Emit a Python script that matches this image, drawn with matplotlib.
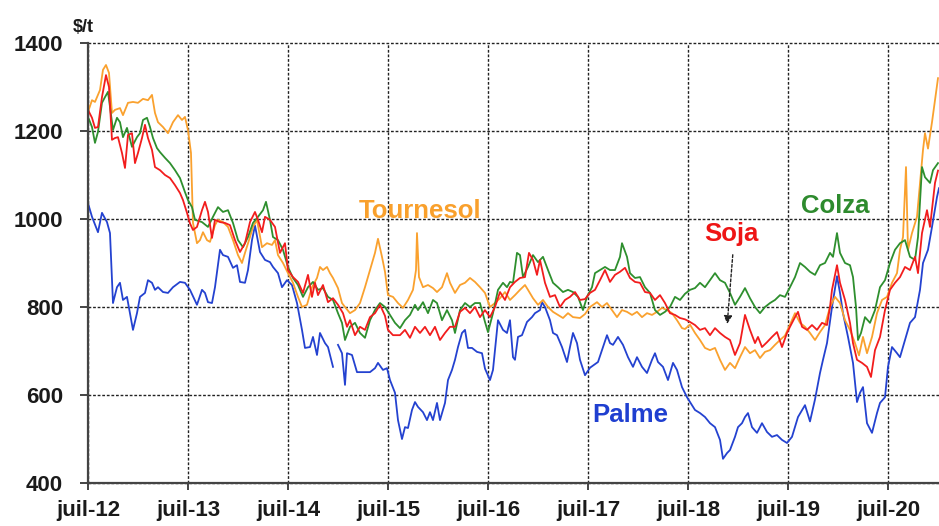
import numpy as np
import matplotlib
matplotlib.use("Agg")
import matplotlib.pyplot as plt

# Prix des huiles végétales, $/t (dates en années décimales, juil-12 = 2012.5)
palme_t = [2012.50, 2012.54, 2012.60, 2012.64, 2012.69, 2012.72, 2012.75, 2012.79, 2012.82, 2012.85,
           2012.89, 2012.92, 2012.95, 2012.99, 2013.02, 2013.07, 2013.10, 2013.14, 2013.17, 2013.20,
           2013.25, 2013.30, 2013.35, 2013.42, 2013.47, 2013.52, 2013.59, 2013.64, 2013.67, 2013.70,
           2013.74, 2013.77, 2013.82, 2013.85, 2013.90, 2013.95, 2013.99, 2014.02, 2014.07, 2014.10,
           2014.14, 2014.17, 2014.22, 2014.27, 2014.32, 2014.35, 2014.40, 2014.44, 2014.49, 2014.54,
           2014.59, 2014.64, 2014.67, 2014.72, 2014.75, 2014.79, 2014.82, 2014.87, 2014.90, 2014.95,
           2014.97,
           2015.00, 2015.04, 2015.07, 2015.09, 2015.14, 2015.19, 2015.25, 2015.32, 2015.37, 2015.40,
           2015.45, 2015.49, 2015.52, 2015.57, 2015.60, 2015.64, 2015.67, 2015.70, 2015.74, 2015.77,
           2015.80, 2015.85, 2015.89, 2015.92, 2015.95, 2015.99, 2016.02, 2016.07, 2016.10, 2016.14,
           2016.17, 2016.20, 2016.24, 2016.27, 2016.30, 2016.34, 2016.39, 2016.44, 2016.47, 2016.52,
           2016.55, 2016.60, 2016.65, 2016.69, 2016.72, 2016.75, 2016.77, 2016.80, 2016.84, 2016.89,
           2016.94, 2016.97, 2017.02, 2017.04, 2017.07, 2017.12, 2017.15, 2017.19, 2017.24, 2017.29,
           2017.32, 2017.35, 2017.39, 2017.42, 2017.47, 2017.52, 2017.60, 2017.65, 2017.69, 2017.72,
           2017.75, 2017.80, 2017.85, 2017.90, 2017.95, 2017.99, 2018.04, 2018.09, 2018.14, 2018.17,
           2018.20, 2018.25, 2018.30, 2018.35, 2018.39, 2018.44, 2018.49, 2018.52, 2018.57, 2018.62,
           2018.67, 2018.72, 2018.77, 2018.82, 2018.85, 2018.89, 2018.92, 2018.97, 2019.00, 2019.04,
           2019.07, 2019.10, 2019.14, 2019.19, 2019.24, 2019.29, 2019.34, 2019.39, 2019.44, 2019.49,
           2019.54, 2019.60, 2019.67, 2019.72, 2019.77, 2019.82, 2019.85, 2019.89, 2019.94, 2019.99,
           2020.02, 2020.05, 2020.10, 2020.15, 2020.19, 2020.22, 2020.25, 2020.29, 2020.34, 2020.39,
           2020.42, 2020.47, 2020.50, 2020.54, 2020.59, 2020.62, 2020.67, 2020.72, 2020.77, 2020.82,
           2020.85, 2020.90, 2020.94, 2020.99, 2021.01]
palme = [1036, 1005, 970, 1014, 993, 968, 809, 845, 855, 816,
         823, 786, 748, 786, 823, 832, 861, 855, 839, 845,
         834, 832, 845, 857, 855, 839, 805, 839, 832, 811,
         809, 845, 930, 918, 914, 889, 895, 857, 855, 884,
         952, 985, 925, 907, 902, 891, 877, 845, 861, 850,
         809, 748, 707, 709, 732, 691, 741, 718, 709, 664,
         np.nan,
         714, 695, 623, 695, 691, 652, 652, 652, 661, 673,
         657, 661, 634, 605, 543, 500, 527, 525, 566, 584,
         573, 561, 543, 561, 543, 582, 543, 582, 634, 657,
         680, 709, 741, 748, 707, 707, 698, 695, 660, 634,
         657, 770, 748, 741, 770, 686, 680, 732, 736, 766,
         777, 786, 793, 811, 800, 770, 741, 736, 709, 675,
         709, 741, 718, 680, 645, 662, 675, 709, 736, 718,
         714, 732, 714, 686, 664, 686, 664, 650, 680, 695,
         675, 664, 634, 673, 657, 618, 595, 584, 566, 559,
         550, 536, 527, 498, 455, 468, 475, 505, 527, 536,
         550, 559, 527, 514, 536, 516, 505, 509, 498, 491,
         505, 550, 577, 540, 590, 650, 680, 718, 800, 870,
         832, 786, 732, 673, 584, 605, 618, 536, 514, 559,
         582, 595, 664, 709, 695, 686, 725, 764, 777, 839,
         900, 930, 982, 1050, 1070]

tournesol_t = [2012.50, 2012.54, 2012.57, 2012.62, 2012.65, 2012.68, 2012.71, 2012.74, 2012.77, 2012.82,
               2012.85, 2012.90, 2012.95, 2013.00, 2013.05, 2013.10, 2013.14, 2013.17, 2013.20, 2013.25,
               2013.30, 2013.35, 2013.40, 2013.44, 2013.47, 2013.50, 2013.53, 2013.55, 2013.59, 2013.62,
               2013.65, 2013.69, 2013.72, 2013.77, 2013.80, 2013.85, 2013.90, 2013.95, 2014.00, 2014.04,
               2014.07, 2014.12, 2014.15, 2014.19, 2014.24, 2014.29, 2014.34, 2014.37, 2014.40, 2014.45,
               2014.50, 2014.55, 2014.60, 2014.64, 2014.69, 2014.74, 2014.79, 2014.82, 2014.85, 2014.89,
               2014.92, 2014.95, 2015.00, 2015.04, 2015.07, 2015.12, 2015.17, 2015.22, 2015.27, 2015.32,
               2015.37, 2015.40, 2015.44, 2015.47, 2015.50, 2015.55, 2015.60, 2015.65, 2015.70, 2015.75,
               2015.78, 2015.79, 2015.81, 2015.85, 2015.90, 2015.95, 2015.99, 2016.04, 2016.09, 2016.12,
               2016.17, 2016.22, 2016.27, 2016.32, 2016.37, 2016.42, 2016.47, 2016.52, 2016.57, 2016.62,
               2016.67, 2016.72, 2016.77, 2016.82, 2016.87, 2016.90, 2016.95, 2017.00, 2017.05, 2017.10,
               2017.15, 2017.20, 2017.25, 2017.30, 2017.35, 2017.42, 2017.47, 2017.52, 2017.59, 2017.64,
               2017.69, 2017.74, 2017.79, 2017.84, 2017.89, 2017.94, 2017.99, 2018.04, 2018.09, 2018.14,
               2018.19, 2018.24, 2018.29, 2018.34, 2018.39, 2018.44, 2018.47, 2018.52, 2018.57, 2018.62,
               2018.67, 2018.72, 2018.77, 2018.82, 2018.87, 2018.92, 2018.97, 2019.02, 2019.07, 2019.12,
               2019.17, 2019.22, 2019.27, 2019.32, 2019.37, 2019.42, 2019.47, 2019.52, 2019.57, 2019.62,
               2019.67, 2019.72, 2019.77, 2019.82, 2019.87, 2019.92, 2019.97, 2020.02, 2020.07, 2020.12,
               2020.17, 2020.21, 2020.25, 2020.29, 2020.34, 2020.39, 2020.44, 2020.49, 2020.54, 2020.59,
               2020.62, 2020.65, 2020.68, 2020.70, 2020.74, 2020.79, 2020.82, 2020.85, 2020.87, 2020.90,
               2020.94, 2020.97, 2021.00]
tournesol = [1243, 1270, 1266, 1293, 1339, 1350, 1332, 1241, 1248, 1252,
             1236, 1264, 1266, 1264, 1273, 1270, 1282, 1241, 1220, 1209,
             1195, 1220, 1236, 1225, 1232, 1202, 1150, 991, 945, 952,
             970, 952, 948, 986, 998, 993, 982, 952, 918, 900,
             923, 959, 982, 998, 936, 945, 941, 952, 918, 900,
             877, 855, 823, 800, 805, 845, 866, 891, 884, 891,
             877, 866, 843, 809, 800, 786, 793, 809, 845, 884,
             923, 955, 914, 880, 827, 823, 809, 798, 816, 839,
             884, 968, 868, 845, 850, 843, 834, 845, 877, 855,
             832, 850, 855, 866, 857, 845, 832, 800, 809, 820,
             834, 816, 827, 839, 850, 839, 820, 805, 816, 800,
             789, 782, 775, 786, 777, 775, 784, 800, 811, 800,
             809, 793, 777, 793, 789, 782, 789, 777, 786, 782,
             789, 798, 793, 786, 770, 752, 750, 760, 741, 725,
             707, 702, 707, 680, 657, 673, 661, 686, 709, 695,
             702, 684, 698, 702, 714, 725, 735, 760, 786, 764,
             755, 741, 725, 743, 759, 800, 823, 809, 770, 748,
             718, 690, 732, 695, 732, 786, 816, 823, 855, 877,
             930, 959, 1118, 930, 968, 1005, 1082, 1157, 1195, 1160,
             1220, 1270, 1320]

colza_t = [2012.50, 2012.54, 2012.57, 2012.60, 2012.64, 2012.67, 2012.70, 2012.72, 2012.75, 2012.79,
           2012.82, 2012.85, 2012.89, 2012.94, 2012.99, 2013.02, 2013.05, 2013.09, 2013.12, 2013.15,
           2013.19, 2013.22, 2013.27, 2013.32, 2013.37, 2013.42, 2013.47, 2013.50, 2013.54, 2013.57,
           2013.64, 2013.70, 2013.75, 2013.80, 2013.85, 2013.90, 2013.95, 2014.00, 2014.05, 2014.10,
           2014.15, 2014.20, 2014.25, 2014.28, 2014.32, 2014.35, 2014.40, 2014.45, 2014.50, 2014.55,
           2014.60, 2014.65, 2014.70, 2014.75, 2014.80, 2014.85, 2014.90, 2014.95, 2015.00, 2015.04,
           2015.07, 2015.12, 2015.17, 2015.22, 2015.27, 2015.32, 2015.37, 2015.42, 2015.47, 2015.52,
           2015.57, 2015.62, 2015.67, 2015.72, 2015.77, 2015.80, 2015.85, 2015.90, 2015.95, 2015.99,
           2016.04, 2016.09, 2016.14, 2016.17, 2016.22, 2016.27, 2016.32, 2016.37, 2016.42, 2016.47,
           2016.50, 2016.55, 2016.60, 2016.65, 2016.69, 2016.72, 2016.75, 2016.79, 2016.82, 2016.85,
           2016.90, 2016.95, 2017.00, 2017.05, 2017.10, 2017.15, 2017.20, 2017.25, 2017.30, 2017.35,
           2017.40, 2017.45, 2017.49, 2017.54, 2017.57, 2017.62, 2017.67, 2017.72, 2017.77, 2017.82,
           2017.84, 2017.89, 2017.92, 2017.97, 2018.02, 2018.07, 2018.12, 2018.17, 2018.22, 2018.27,
           2018.32, 2018.37, 2018.42, 2018.47, 2018.52, 2018.57, 2018.62, 2018.67, 2018.72, 2018.77,
           2018.82, 2018.87, 2018.92, 2018.97, 2019.02, 2019.07, 2019.12, 2019.17, 2019.22, 2019.27,
           2019.32, 2019.37, 2019.42, 2019.47, 2019.52, 2019.57, 2019.62, 2019.67, 2019.72, 2019.77,
           2019.82, 2019.87, 2019.92, 2019.95, 2019.99, 2020.02, 2020.07, 2020.12, 2020.15, 2020.18,
           2020.20, 2020.23, 2020.27, 2020.32, 2020.37, 2020.42, 2020.47, 2020.52, 2020.57, 2020.62,
           2020.67, 2020.72, 2020.77, 2020.80, 2020.84, 2020.87, 2020.92, 2020.95, 2021.00]
colza = [1232, 1209, 1173, 1198, 1264, 1277, 1289, 1255, 1202, 1230,
         1220, 1186, 1207, 1164, 1186, 1195, 1225, 1230, 1209, 1184,
         1161, 1152, 1139, 1127, 1111, 1093, 1061, 1043, 1027, 998,
         993, 982, 1005, 1027, 1016, 1020, 991, 952, 936, 959,
         991, 1005, 1020, 1039, 998, 959, 952, 930, 891, 866,
         850, 823, 845, 857, 839, 843, 823, 816, 786, 764,
         725, 755, 764, 741, 730, 770, 793, 809, 800, 782,
         764, 752, 770, 782, 805, 793, 811, 786, 816, 809,
         770, 793, 770, 741, 793, 809, 800, 809, 809, 766,
         743, 786, 839, 855, 845, 857, 855, 923, 918, 868,
         891, 918, 902, 914, 884, 855, 845, 834, 839, 834,
         823, 793, 823, 845, 877, 884, 891, 884, 884, 914,
         945, 914, 877, 866, 868, 845, 832, 793, 782, 789,
         800, 823, 816, 830, 839, 843, 855, 845, 861, 877,
         861, 855, 832, 805, 823, 843, 820, 800, 786, 800,
         809, 816, 827, 823, 845, 868, 900, 891, 880, 873,
         895, 900, 923, 914, 968, 923, 900, 895, 868, 800,
         725, 741, 777, 764, 793, 845, 861, 900, 930, 945,
         952, 914, 907, 959, 1118, 1095, 1082, 1111, 1127]

soja_t = [2012.50, 2012.54, 2012.57, 2012.60, 2012.64, 2012.68, 2012.71, 2012.74, 2012.77, 2012.80,
          2012.84, 2012.87, 2012.90, 2012.94, 2012.97, 2013.00, 2013.04, 2013.07, 2013.10, 2013.14,
          2013.17, 2013.22, 2013.27, 2013.32, 2013.37, 2013.42, 2013.45, 2013.49, 2013.52, 2013.55,
          2013.59, 2013.64, 2013.67, 2013.70, 2013.74, 2013.77, 2013.82, 2013.87, 2013.92, 2013.97,
          2014.02, 2014.07, 2014.12, 2014.17, 2014.20, 2014.24, 2014.27, 2014.32, 2014.37, 2014.42,
          2014.47, 2014.50, 2014.55, 2014.60, 2014.65, 2014.70, 2014.74, 2014.77, 2014.80, 2014.85,
          2014.90, 2014.95, 2015.00, 2015.05, 2015.09, 2015.12, 2015.17, 2015.22, 2015.27, 2015.32,
          2015.37, 2015.42, 2015.47, 2015.50, 2015.55, 2015.62, 2015.67, 2015.72, 2015.77, 2015.82,
          2015.87, 2015.92, 2015.97, 2016.02, 2016.07, 2016.12, 2016.17, 2016.22, 2016.27, 2016.32,
          2016.37, 2016.42, 2016.47, 2016.52, 2016.57, 2016.62, 2016.67, 2016.72, 2016.77, 2016.82,
          2016.87, 2016.91, 2016.95, 2016.99, 2017.02, 2017.07, 2017.12, 2017.17, 2017.22, 2017.27,
          2017.32, 2017.37, 2017.42, 2017.47, 2017.52, 2017.57, 2017.62, 2017.67, 2017.72, 2017.77,
          2017.82, 2017.87, 2017.92, 2017.97, 2018.02, 2018.07, 2018.12, 2018.17, 2018.22, 2018.27,
          2018.32, 2018.37, 2018.42, 2018.47, 2018.52, 2018.57, 2018.62, 2018.67, 2018.72, 2018.77,
          2018.82, 2018.87, 2018.92, 2018.97, 2019.02, 2019.07, 2019.12, 2019.17, 2019.20, 2019.24,
          2019.29, 2019.34, 2019.39, 2019.44, 2019.49, 2019.52, 2019.57, 2019.60, 2019.64, 2019.69,
          2019.74, 2019.79, 2019.84, 2019.89, 2019.92, 2019.94, 2019.99, 2020.02, 2020.07, 2020.12,
          2020.15, 2020.19, 2020.24, 2020.29, 2020.33, 2020.37, 2020.42, 2020.47, 2020.52, 2020.57,
          2020.62, 2020.67, 2020.72, 2020.77, 2020.80, 2020.84, 2020.89, 2020.92, 2020.97, 2021.00]
soja = [1248, 1230, 1207, 1209, 1277, 1327, 1300, 1180, 1184, 1186,
        1150, 1116, 1191, 1195, 1127, 1150, 1184, 1214, 1184, 1157,
        1118, 1111, 1100, 1093, 1077, 1059, 1043, 1014, 990, 975,
        982, 1020, 1039, 1016, 957, 998, 993, 991, 986, 952,
        925, 945, 993, 1016, 998, 970, 1005, 998, 982, 923,
        945, 884, 868, 857, 832, 873, 823, 855, 827, 850,
        811, 820, 805, 786, 755, 770, 736, 755, 748, 777,
        786, 805, 780, 748, 736, 736, 748, 730, 755, 741,
        755, 736, 755, 725, 741, 755, 755, 789, 798, 786,
        800, 777, 793, 777, 800, 834, 816, 845, 857, 866,
        868, 923, 907, 873, 907, 855, 823, 827, 800, 816,
        823, 834, 816, 818, 832, 839, 861, 884, 857, 873,
        880, 889, 866, 857, 855, 834, 832, 816, 827, 809,
        786, 782, 775, 772, 766, 759, 748, 752, 736, 752,
        741, 732, 725, 691, 718, 782, 748, 718, 732, 709,
        720, 732, 743, 709, 741, 755, 777, 789, 755, 748,
        759, 748, 764, 759, 800, 839, 895, 855, 816, 764,
        718, 680, 673, 664, 641, 702, 732, 793, 839, 855,
        868, 891, 884, 914, 877, 968, 1020, 982, 1082, 1110]

tick_years = [2012.5 + k for k in range(9)]
tick_labels = ["juil-12", "juil-13", "juil-14", "juil-15", "juil-16",
               "juil-17", "juil-18", "juil-19", "juil-20"]

plt.rcParams["font.family"] = ["Liberation Sans", "DejaVu Sans"]

fig = plt.figure(figsize=(9.39, 5.26), dpi=100)
ax = fig.add_axes([0.0937, 0.0817, 0.9063, 0.8366])

c_palme = "#2442D0"
c_tourn = "#FAA12E"
c_colza = "#2E8F2E"
c_soja = "#F21D1D"

ax.plot(palme_t, palme, color=c_palme, lw=1.3)
ax.plot(tournesol_t, tournesol, color=c_tourn, lw=1.3)
ax.plot(colza_t, colza, color=c_colza, lw=1.3)
ax.plot(soja_t, soja, color=c_soja, lw=1.3)

ax.set_xlim(2012.5, 2021.01)
ax.set_ylim(400, 1400)
ax.set_xticks(tick_years)
ax.set_xticklabels(tick_labels)
ax.set_yticks([400, 600, 800, 1000, 1200, 1400])

ax.grid(True, color="#222222", linestyle=(0, (2, 1.3)), linewidth=1.0)
ax.set_axisbelow(True)
for gl in ax.get_ygridlines() + ax.get_xgridlines():
    gl.set_clip_on(False)

ax.spines["top"].set_visible(False)
ax.spines["right"].set_visible(False)
for s in ("left", "bottom"):
    ax.spines[s].set_color("#444444")
    ax.spines[s].set_linewidth(1.6)

ax.tick_params(axis="y", length=6, width=1.4, color="#444444", pad=12,
               labelsize=16, labelcolor="#1a1a1a")
ax.tick_params(axis="x", length=5, width=1.4, color="#444444", pad=7,
               labelsize=16, labelcolor="#1a1a1a")
for lab in ax.get_xticklabels() + ax.get_yticklabels():
    lab.set_fontweight("bold")

fig.text(73 / 939, 1 - 27 / 526, "$/t", fontsize=13, fontweight="bold",
         color="#1a1a1a", ha="left", va="center")

ax.text(2015.82, 1002, "Tournesol", color="#F9A02C", fontsize=18.5,
        fontweight="bold", ha="center", va="baseline")
ax.text(2019.97, 1014, "Colza", color="#2E8B2E", fontsize=18.5,
        fontweight="bold", ha="center", va="baseline")
ax.text(2018.93, 950, "Soja", color="#EE1515", fontsize=18.5,
        fontweight="bold", ha="center", va="baseline")
ax.text(2017.92, 539, "Palme", color="#1F3FD0", fontsize=18.5,
        fontweight="bold", ha="center", va="baseline")

ax.annotate("", xy=(2018.89, 755), xytext=(2018.95, 925),
            arrowprops=dict(arrowstyle="-|>", linestyle=(0, (2, 1.5)),
                            color="#222222", lw=1.0, mutation_scale=12))

fig.savefig("out.png", dpi=100)
